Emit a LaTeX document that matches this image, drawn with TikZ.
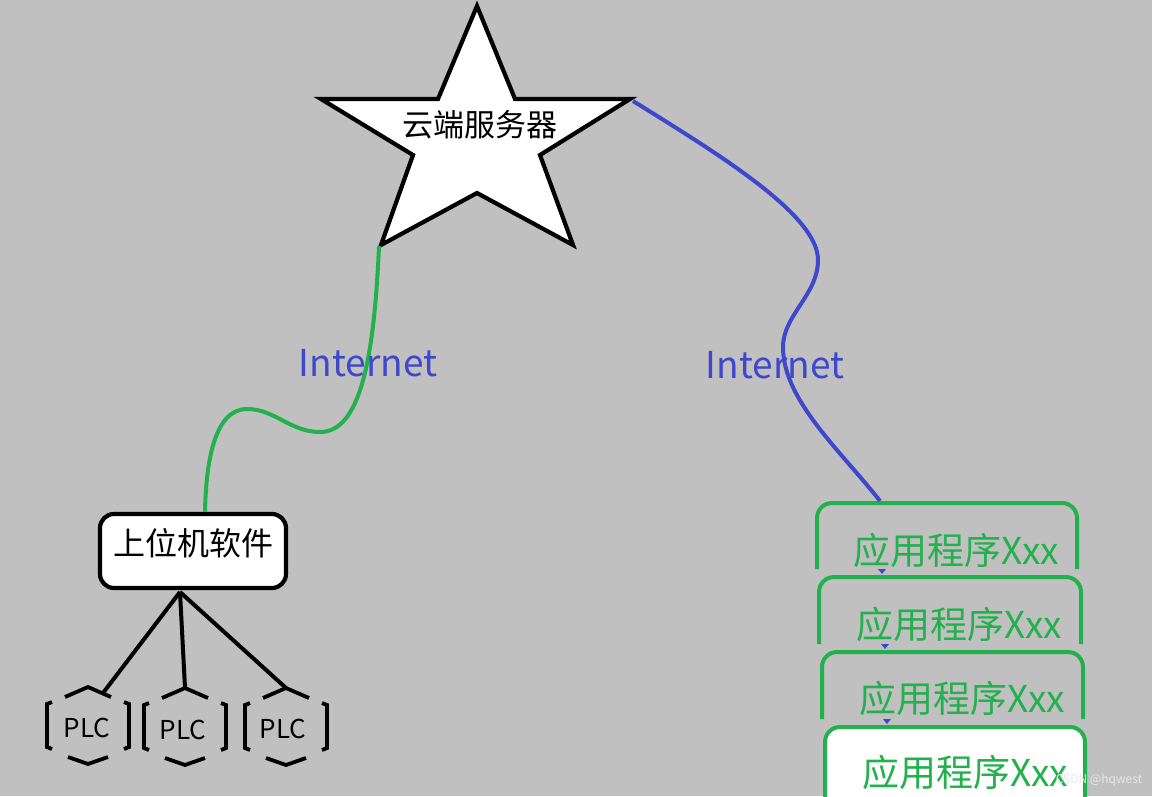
\documentclass[tikz,border=0pt]{standalone}
\usepackage{fontspec}
\setmainfont{Noto Sans CJK SC}
\definecolor{bg}{RGB}{192,192,192}
\definecolor{pgreen}{RGB}{34,177,76}
\definecolor{pblue}{RGB}{63,72,204}
\definecolor{wmgray}{RGB}{232,232,232}
\newcommand\plcoutline[2]{%
  \begin{scope}[shift={(#1,#2)}]
    \draw[plcline] (-23,-29) -- (0,-39) -- (23,-29);
    \draw[plcline] (-20,31) -- (0,38) -- (20,31);
    \draw[plcline] (-36,-24) -- (-41,-22) -- (-41,21) -- (-36,23);
    \draw[plcline] (36,-24) -- (41,-22) -- (41,21) -- (36,23);
  \end{scope}}
\begin{document}
\begin{tikzpicture}[x=1pt,y=-1pt,
  starline/.style={line width=4.2pt, line join=miter, draw=black, fill=white},
  hostbox/.style={draw=black, line width=4.2pt, rounded corners=14pt, fill=white, minimum width=186pt, minimum height=74pt, inner sep=0pt},
  plcline/.style={line width=3.8pt, draw=black},
  wire/.style={line width=4pt, draw=black},
  netgreen/.style={line width=4pt, draw=pgreen},
  netblue/.style={line width=4pt, draw=pblue},
  appbox/.style={line width=4pt, draw=pgreen, rounded corners=15pt},
  cjkbig/.style={font=\fontsize{31}{31}\selectfont, anchor=base, inner sep=0pt},
  hosttext/.style={font=\fontsize{32}{32}\selectfont, anchor=base, inner sep=0pt},
  nettext/.style={font=\fontsize{37}{37}\selectfont, text=pblue, anchor=base, inner sep=0pt},
  plctext/.style={font=\fontsize{26}{26}\selectfont, anchor=base, inner sep=0pt},
  apptext/.style={font=\fontsize{37}{37}\selectfont, text=pgreen, anchor=base, inner sep=0pt}
]
\fill[bg] (0,0) rectangle (1152,796);
\useasboundingbox (0,0) rectangle (1152,796);

% star (cloud server)
\draw[starline] (477,6) -- (515,99) -- (630,99) -- (540,155) -- (573,245) -- (477,193)
  -- (381,245) -- (413,155) -- (321,99) -- (438,99) -- cycle;
\coordinate (starBL) at (379,246);
\coordinate (starR) at (633,101);
\node[cjkbig] (cloud) at (480,136) {云端服务器};

% host software box
\node[hostbox] (host) at (193,551) {};
\node[hosttext] (hostlabel) at (193,555) {上位机软件};
\coordinate (hostfoot) at (180,592);

% green internet link
\draw[netgreen] (starBL) .. controls (374,360) and (360,432) .. (320,432)
  .. controls (290,432) and (275,409) .. (247,409)
  .. controls (215,409) and (206,460) .. ([xshift=12pt]host.north);
\node[nettext] (net1) at (368,376) {Internet};

% PLCs
\plcoutline{88}{726}
\plcoutline{185}{727}
\plcoutline{286}{727}
\coordinate (plc1top) at (103,693);
\coordinate (plc2top) at (185,688);
\coordinate (plc3top) at (286,688);
\node[plctext] (plc1) at (87,737) {PLC};
\node[plctext] (plc2) at (183,739) {PLC};
\node[plctext] (plc3) at (283,738) {PLC};
\draw[wire] (hostfoot) -- (plc1top);
\draw[wire] (hostfoot) -- (plc2top);
\draw[wire] (hostfoot) -- (plc3top);

% application boxes
\draw[appbox] (817,569) -- (817,503) -- (1077,503) -- (1077,569);
\draw[appbox] (819,644) -- (819,577) -- (1081,577) -- (1081,644);
\draw[appbox] (822,719) -- (822,652) -- (1083,652) -- (1083,719);
\filldraw[appbox, fill=white] (825,802) -- (825,727) -- (1085,727) -- (1085,802);
\coordinate (app1top) at (880,501);
\node[apptext] (app1) at (956,564) {应用程序Xxx};
\node[apptext] (app2) at (959,638) {应用程序Xxx};
\node[apptext] (app3) at (962,712) {应用程序Xxx};
\node[apptext] (app4) at (965,786) {应用程序Xxx};
\fill[pblue] (878,569) -- (886,569) -- (882,574) -- cycle;
\fill[pblue] (881,644) -- (889,644) -- (885,649) -- cycle;
\fill[pblue] (883,719) -- (891,719) -- (887,724) -- cycle;

% blue internet link
\draw[netblue] (starR) .. controls (720,155) and (818,215) .. (818,260)
  .. controls (818,295) and (783,315) .. (783,347)
  .. controls (783,400) and (840,450) .. (app1top);
\node[nettext] (net2) at (775,378) {Internet};

% watermark
\node[font=\fontsize{12}{12}\selectfont, text=wmgray, inner sep=0pt] (wm) at (1099,780) {CSDN @hqwest};
\end{tikzpicture}
\end{document}
